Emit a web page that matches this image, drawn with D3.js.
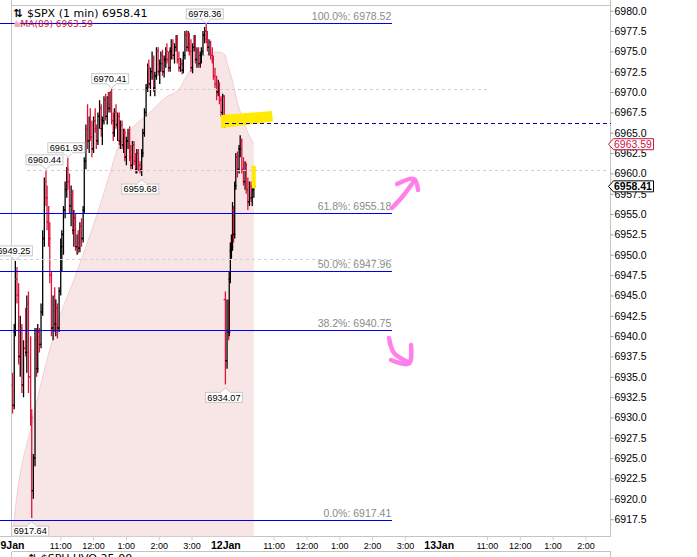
<!DOCTYPE html>
<html><head><meta charset="utf-8">
<script src="https://cdn.jsdelivr.net/npm/d3@7"></script>
<style>body{margin:0;background:#fff;}svg{display:block;}</style>
</head><body>
<svg id="c" width="697" height="557"></svg>
<script>
// ---------------- data ----------------
const symbolText = "$SPX (1 min) 6958.41";
const lastPrice = 6958.41;
const maText = "MA(89) 6963.59";
const maLast = 6963.59;
const lowerPanelText = "⇅ $SPH.UVO 25:00";
const dayLabels = ["9Jan", "12Jan", "13Jan"];
const hourLabels = ["11:00", "12:00", "1:00", "2:00", "3:00"];
const hourOffsets = [90, 150, 210, 270, 330];   // minutes after 9:30
const sessionMinutes = 390;
const yTickValues = [6917.5, 6920, 6922.5, 6925, 6927.5, 6930, 6932.5, 6935, 6937.5, 6940,
  6942.5, 6945, 6947.5, 6950, 6952.5, 6955, 6957.5, 6960, 6962.5, 6965, 6967.5, 6970,
  6972.5, 6975, 6977.5, 6980];

// [minute after open, open, high, low, close]
const jan9 = [
[2,6934,6935.5,6930.5,6931.5],[5,6931.5,6941.5,6931,6940.5],[7,6940.5,6949.25,6940,6947],
[10,6947,6948.5,6944,6945],[13,6945,6946.5,6936.5,6937.5],[16,6937.5,6942.5,6935,6941],
[19,6941,6941.5,6933,6934],[22,6934,6939.5,6932.5,6938.5],[26,6938.5,6943.5,6937.5,6938],
[28,6938,6945,6935.5,6944],[31,6944,6945.5,6933,6935],[35,6935,6940,6929,6930],
[37,6930,6931,6917.64,6921],[40,6921,6925.5,6920,6925],[43,6925,6941,6924,6939.5],
[46,6939.5,6941,6935,6936],[48,6936,6941.5,6935.5,6940.5],[51,6940.5,6941,6938,6939],
[54,6939,6944,6938.5,6943],[57,6943,6953,6942.5,6952],[60,6952,6959.5,6951,6959],
[63,6959,6960.44,6956,6957],[65,6957,6958.5,6953,6954],[68,6954,6956,6951,6952],
[70,6952,6954,6946.5,6947.5],[73,6947.5,6948,6940,6941],[76,6941,6945,6939.5,6944],
[79,6944,6946,6940.5,6941.5],[81,6941.5,6944.5,6940,6943.5],[84,6943.5,6944,6939.7,6941],
[87,6941,6946,6940.5,6945.5],[90,6945.5,6952,6945,6951],[92,6951,6953,6948,6952.5],
[95,6952.5,6956,6950,6955.5],[98,6955.5,6959,6954.5,6958],[101,6958,6960.8,6957,6960.5],
[103,6960.5,6961.93,6958,6959],[106,6959,6960,6955,6956],[109,6956,6958.5,6953.5,6957.5],
[112,6957.5,6958,6952.5,6953],[114,6953,6955.5,6951,6954.5],[117,6954.5,6955,6950.5,6951],
[120,6951,6952.5,6950,6951.5],[122,6951.5,6953,6950.2,6950.8],[125,6950.8,6954,6950.3,6953.5],
[128,6953.5,6954.5,6951,6952],[131,6952,6956,6951.5,6955.5],[133,6955.5,6962,6955,6961.5],
[136,6961.5,6966,6960.5,6965.5],[139,6965.5,6968.5,6963,6964],[142,6964,6967,6962.5,6966],
[144,6966,6968,6964,6964.5],[147,6964.5,6966.5,6962,6963],[150,6963,6967,6962.5,6966.5],
[153,6966.5,6968,6965,6965.5],[155,6965.5,6966,6963,6964],[158,6964,6967.5,6963.5,6967],
[161,6967,6969,6965.5,6968],[164,6968,6968.5,6964.5,6965.5],[166,6965.5,6967,6963.5,6966.5],
[169,6966.5,6969.5,6966,6969],[172,6969,6969.8,6966.5,6967],[175,6967,6969.5,6966,6969],
[177,6969,6970,6967.5,6968],[180,6968,6970,6967.5,6970],[183,6970,6970.41,6966,6966.5],
[186,6966.5,6967.5,6964,6965],[188,6965,6968,6964.5,6967.5],[191,6967.5,6968.5,6965.5,6966],
[194,6966,6967.5,6964,6967],[197,6967,6967.5,6963.5,6964],[199,6964,6966.5,6963,6966],
[202,6966,6966.5,6963,6963.5],[205,6963.5,6965.5,6962.5,6965],[207,6965,6965.5,6961.5,6962],
[210,6962,6964.5,6961,6964],[213,6964,6965.5,6963,6965],[216,6965,6965.8,6961.5,6962],
[218,6962,6963.5,6960.5,6961],[221,6961,6964,6960.5,6963.5],[224,6963.5,6964,6961,6961.5],
[227,6961.5,6962.5,6960,6960.5],[229,6960.5,6963,6960,6962.5],[232,6962.5,6963,6960.3,6961],
[235,6961,6961.5,6960,6960.5],[238,6960.5,6963,6959.68,6962.5],[240,6962.5,6965.5,6962,6965],
[243,6965,6968,6964.5,6967.5],[246,6967.5,6971,6967,6970.5],[249,6970.5,6973.5,6970,6973],
[251,6973,6974,6970.5,6971],[254,6971,6973,6969.5,6972.5],[257,6972.5,6975,6971.5,6974],
[260,6974,6974.5,6970,6970.5],[262,6970.5,6972.5,6969.5,6972],[265,6972,6975.5,6971.5,6975],
[268,6975,6975.5,6972,6972.5],[271,6972.5,6974,6971,6973.5],[273,6973.5,6975,6972.5,6974.5],
[276,6974.5,6975.2,6972,6972.5],[279,6972.5,6974.5,6971.8,6974],[282,6974,6975.5,6973,6975],
[284,6975,6976,6973.5,6974],[287,6974,6975,6972.5,6973],[290,6973,6975.5,6972.5,6975],
[292,6975,6976.5,6974,6976],[295,6976,6976.5,6974,6974.5],[298,6974.5,6976,6973.5,6975.5],
[301,6975.5,6977,6975,6976.5],[303,6976.5,6977,6973.5,6974],[306,6974,6975,6972.5,6973],
[309,6973,6974.2,6972.5,6973.5],[312,6973.5,6974,6972.2,6972.7],[314,6972.7,6975,6972.3,6974.5],
[317,6974.5,6977.5,6974,6977],[320,6977,6977.6,6975,6975.5],[323,6975.5,6977.5,6975,6977],
[325,6977,6977.3,6974.5,6975],[328,6975,6976.5,6972.5,6973],[331,6973,6976,6972.3,6975.5],
[334,6975.5,6977,6975,6976.5],[336,6976.5,6977,6973.5,6974],[339,6974,6975.5,6973,6975],
[342,6975,6975.5,6973,6973.5],[345,6973.5,6975,6973,6974.5],[347,6974.5,6975.5,6973.5,6975],
[350,6975,6977.5,6974.5,6977],[353,6977,6978,6976,6977.5],[356,6977.5,6978.36,6976,6976.5],
[358,6976.5,6977.5,6975,6975.5],[361,6975.5,6976.5,6974.5,6976],[364,6976,6976.3,6974,6974.5],
[367,6974.5,6975.5,6973.5,6974],[369,6974,6974.5,6971.5,6972],[372,6972,6973,6970.5,6971],
[375,6971,6972,6969,6970],[378,6970,6971.5,6969.5,6971],[380,6971,6971.2,6968.5,6969],
[383,6969,6969.5,6967,6967.5],[386,6967.5,6969.8,6967,6969.5],[389,6969.5,6969.6,6965.6,6966.2]
];
const jan12 = [
[1,6944.5,6945.5,6934.07,6937],[4,6937,6944.5,6936,6943.5],[7,6943.5,6944.5,6939.5,6940.5],
[8,6940.5,6948,6940,6947],[10,6947,6951.5,6946.5,6950.5],[12,6950.5,6952.5,6949.5,6951],
[14,6951,6956.5,6950.5,6955.5],[16,6955.5,6956,6951.5,6952.5],[18,6952.5,6959,6952,6958.5],
[20,6958.5,6962.5,6958,6962],[23,6962,6962.7,6959.5,6960.5],[26,6960.5,6963.5,6960,6963],
[28,6963,6964.7,6962,6964],[31,6964,6964.3,6960,6960.5],[34,6960.5,6962,6958.5,6959],
[37,6959,6961.5,6958,6961],[39,6961,6961.3,6957.5,6958],[42,6958,6959.5,6955.5,6956.5],
[45,6956.5,6959,6956,6958.5],[48,6958.5,6959,6956.5,6957],[50,6957,6958.5,6956,6958],
[53,6958,6960.5,6957,6958.41]
];

// 89-period moving average (session bar index, value)
const maIdx = [1,5,39,80,120,158,180,193,217,253,281,308,321,332,345,357,368,381,390,394,405,412,423,432,443];
const maVal = [6914.5,6917.4,6929.7,6940.7,6948.0,6955.3,6960.0,6962.9,6965.3,6967.5,6969.3,6970.5,
  6972.1,6973.1,6974.2,6974.6,6974.9,6974.9,6974.6,6973.6,6971.1,6969.0,6966.6,6965.0,6963.59];

// Fibonacci retracement
const fibPct = ["100.0%", "61.8%", "50.0%", "38.2%", "0.0%"];
const fibVal = [6978.52, 6955.18, 6947.96, 6940.75, 6917.41];
const fibFrom = -21, fibTo = 696;

// grey dashed level lines
const hlineVal = [6970.41, 6960.44, 6949.5];
const hlineFrom = [183, 28, -21];
const hlineTo = [869, 1092, 696];
const prevClose = 6966.16;

// high / low callouts
const calloutIdx = [356, 183, 103, 63, 7, 37, 391, 238];
const calloutVal = [6978.36, 6970.41, 6961.93, 6960.44, 6949.25, 6917.64, 6934.07, 6959.68];
const calloutSide = ["up","up","up","up","up","down","down","down"];

// hand-drawn annotations (bar index, price)
const yellowBand = [[383,6967.18],[476,6967.67],[478,6966.38],[383,6965.58]];
const yellowBar = [[439,6960.95],[446.5,6960.95],[446.5,6958.17],[439,6958.17]];
const arrowUpShaft = [[695.5,6955.75],[715.6,6957.22],[735.7,6959.06]];
const arrowUpHead = [[704.7,6958.69],[735.7,6959.31],[743,6957.96]];
const arrowDnShaft = [[690,6939.77],[699.2,6937.93],[724.8,6936.82]];
const arrowDnHead = [[693.7,6937.07],[726.6,6936.63],[730.3,6938.9]];

// ---------------- drawing ----------------
const svg = d3.select("#c");
const L = 11.5, R = 610.5, T = 5.5, B = 536.5;
const x = d3.scaleLinear().domain([0, 1094]).range([11.5, 610]);
const y = d3.scaleLinear().domain([6917.5, 6980]).range([519.2, 10.7]);
const UP = "#000000", DOWN = "#dc143c", GRID = "#c4c4c4";

svg.append("defs").append("clipPath").attr("id", "pc")
  .append("rect").attr("x", L).attr("y", T).attr("width", R - L - 0.5).attr("height", B - T);

// frame
const frame = svg.append("g").attr("stroke", GRID).attr("stroke-width", 1).attr("fill", "none")
  .attr("shape-rendering", "crispEdges");
frame.append("line").attr("x1", L).attr("x2", L).attr("y1", 0).attr("y2", B);
frame.append("line").attr("x1", L).attr("x2", L).attr("y1", 551.5).attr("y2", 557);
frame.append("line").attr("x1", R).attr("x2", R).attr("y1", 0).attr("y2", B);
frame.append("line").attr("x1", R).attr("x2", R).attr("y1", 551.5).attr("y2", 557);
frame.append("line").attr("x1", L).attr("x2", R).attr("y1", T).attr("y2", T);
frame.append("line").attr("x1", 0).attr("x2", R).attr("y1", B).attr("y2", B);
frame.append("line").attr("x1", L).attr("x2", R).attr("y1", 551.5).attr("y2", 551.5);

const plot = svg.append("g").attr("clip-path", "url(#pc)");

// MA area
const maPts = maIdx.map((d, i) => [d, maVal[i]]);
plot.append("path").datum(maPts)
  .attr("d", d3.area().x(d => x(d[0])).y0(B).y1(d => y(d[1])).curve(d3.curveMonotoneX))
  .attr("fill", "#f8e5e6");
plot.append("path").datum(maPts)
  .attr("d", d3.line().x(d => x(d[0])).y(d => y(d[1])).curve(d3.curveMonotoneX))
  .attr("fill", "none").attr("stroke", "#f2cdd2").attr("stroke-width", 1);

// yellow highlights
const poly = d3.line().x(d => x(d[0])).y(d => y(d[1]));
[yellowBand, yellowBar].forEach(p => {
  svg.append("path").attr("d", poly(p) + "Z").attr("fill", "#ffea00");
});

// grey dashed lines
hlineVal.forEach((v, i) => {
  svg.append("line").attr("x1", x(hlineFrom[i])).attr("x2", x(hlineTo[i]))
    .attr("y1", Math.round(y(v)) + 0.5).attr("y2", Math.round(y(v)) + 0.5)
    .attr("stroke", "#cfcfcf").attr("stroke-dasharray", "3,3").attr("shape-rendering", "crispEdges");
});
// previous close dashed
svg.append("line").attr("x1", x(390)).attr("x2", R)
  .attr("y1", Math.round(y(prevClose)) + 0.5).attr("y2", Math.round(y(prevClose)) + 0.5)
  .attr("stroke", "#0000b0").attr("stroke-dasharray", "4,3").attr("shape-rendering", "crispEdges");

// fib lines + labels
fibVal.forEach((v, i) => {
  const yy = Math.round(y(v)) + 0.5;
  svg.append("line").attr("x1", x(fibFrom)).attr("x2", x(fibTo)).attr("y1", yy).attr("y2", yy)
    .attr("stroke", "#0000f0").attr("stroke-width", 1).attr("shape-rendering", "crispEdges");
  svg.append("text").attr("x", x(fibTo) - 1).attr("y", yy - 3.5).attr("text-anchor", "end")
    .attr("font-family", "Liberation Sans, Arial, sans-serif").attr("font-size", 10.5)
    .attr("fill", "#8a8a8a").text(fibPct[i] + ": " + v.toFixed(2));
});

// price bars
const bars = jan9.map(b => ({ i: b[0], o: b[1], h: b[2], l: b[3], c: b[4] }))
  .concat(jan12.map(b => ({ i: sessionMinutes + b[0], o: b[1], h: b[2], l: b[3], c: b[4] })));
plot.append("g").selectAll("path").data(bars).join("path")
  .attr("d", d => {
    const xx = x(d.i);
    return `M${xx},${y(d.h)}V${y(d.l)}M${xx - 1.8},${y(d.o)}H${xx}M${xx},${y(d.c)}H${xx + 1.8}`;
  })
  .attr("fill", "none").attr("stroke-width", 1.3)
  .attr("stroke", d => d.c >= d.o ? UP : DOWN);

// callouts
const cg = svg.append("g");
calloutIdx.forEach((ix, k) => {
  const px = x(ix), py = y(calloutVal[k]);
  const txt = calloutVal[k].toFixed(2);
  const w = 37, h = 10, cx = px - 1.5;
  const up = calloutSide[k] === "up";
  const by = up ? py - 5 - h : py + 8;
  cg.append("rect").attr("x", cx - w / 2).attr("y", by).attr("width", w).attr("height", h)
    .attr("fill", "#fff").attr("stroke", "#c8c8c8");
  const edge = up ? by + h : by;
  const tip = up ? edge + 4.5 : edge - 4.5;
  cg.append("path").attr("d", `M${px - 5},${edge}L${px},${tip}L${px + 5},${edge}`)
    .attr("fill", "#fff").attr("stroke", "#c8c8c8");
  cg.append("line").attr("x1", px - 4.3).attr("x2", px + 4.3).attr("y1", edge).attr("y2", edge)
    .attr("stroke", "#fff").attr("stroke-width", 1.2);
  cg.append("text").attr("x", cx).attr("y", by + 8.3).attr("text-anchor", "middle")
    .attr("font-family", "Liberation Sans, Arial, sans-serif").attr("font-size", 9.2)
    .attr("fill", "#000").text(txt);
});

// arrows
const curve = d3.line().x(d => x(d[0])).y(d => y(d[1])).curve(d3.curveCatmullRom);
[arrowUpShaft, arrowUpHead, arrowDnShaft, arrowDnHead].forEach(p => {
  svg.append("path").attr("d", curve(p)).attr("fill", "none").attr("stroke", "#ff80ea")
    .attr("stroke-width", 4.5).attr("stroke-linecap", "round").attr("stroke-linejoin", "round");
});

// y axis
const yAxis = d3.axisRight(y).tickValues(yTickValues).tickFormat(d3.format(".1f"))
  .tickSize(3).tickPadding(1);
const ya = svg.append("g").attr("transform", `translate(${R},0)`).call(yAxis);
ya.select(".domain").remove();
ya.selectAll(".tick line").attr("stroke", "#999");
ya.selectAll(".tick text").attr("font-family", "Liberation Sans, Arial, sans-serif")
  .attr("font-size", 10.5).attr("fill", "#000");

// right badges
function badge(v, stroke, color, bold) {
  const yy = y(v);
  svg.append("path")
    .attr("d", `M${R - 2},${yy}L${R + 3},${yy - 5.5}H${R + 43}V${yy + 5.5}H${R + 3}Z`)
    .attr("fill", "#fff").attr("stroke", stroke).attr("stroke-width", 1);
  svg.append("text").attr("x", R + 3.5).attr("y", yy + 4)
    .attr("font-family", "Liberation Sans, Arial, sans-serif").attr("font-size", 10.5)
    .attr("font-weight", bold ? "bold" : "normal").attr("fill", color).text(v.toFixed(2));
}
badge(maLast, "#cc1144", "#cc1144", false);
badge(lastPrice, "#000", "#000", true);

// x axis
const xt = [];
dayLabels.forEach((d, di) => {
  xt.push({ i: di * sessionMinutes, t: d, bold: true });
  hourLabels.forEach((h, hi) => xt.push({ i: di * sessionMinutes + hourOffsets[hi], t: h, bold: false }));
});
const xg = svg.append("g");
xt.filter(d => x(d.i) < R - 8).forEach(d => {
  const xx = x(d.i);
  if (!d.bold) xg.append("line").attr("x1", xx).attr("x2", xx).attr("y1", B).attr("y2", B + 4)
    .attr("stroke", "#d0d0d0");
  xg.append("text").attr("x", d.bold ? xx + 1 : xx).attr("y", 548.5).attr("text-anchor", "middle")
    .attr("font-family", "Liberation Sans, Arial, sans-serif")
    .attr("font-size", d.bold ? 10.5 : 9).attr("font-weight", d.bold ? "bold" : "normal")
    .attr("fill", "#000").text(d.t);
});

// legend
svg.append("text").attr("x", 13.5).attr("y", 17).attr("font-family", "DejaVu Sans, sans-serif")
  .attr("font-size", 11).attr("font-weight", "bold").attr("fill", "#000").text("⇅");
svg.append("text").attr("x", 27).attr("y", 17).attr("font-family", "DejaVu Sans, sans-serif")
  .attr("font-size", 11).attr("fill", "#000").text(symbolText);
svg.append("path").attr("d", "M14.5,27L14.5,23L16.5,20.5L18.5,23L20.5,21.5L20.5,27Z")
  .attr("fill", "#f2aab8");
svg.append("text").attr("x", 20.5).attr("y", 27).attr("font-family", "DejaVu Sans, sans-serif")
  .attr("font-size", 9).attr("fill", "#cc1144").text(maText);

// lower panel title (cut off)
svg.append("text").attr("x", 28).attr("y", 562).attr("font-family", "DejaVu Sans, sans-serif")
  .attr("font-size", 11).attr("fill", "#000").text(lowerPanelText);
</script>
</body></html>
